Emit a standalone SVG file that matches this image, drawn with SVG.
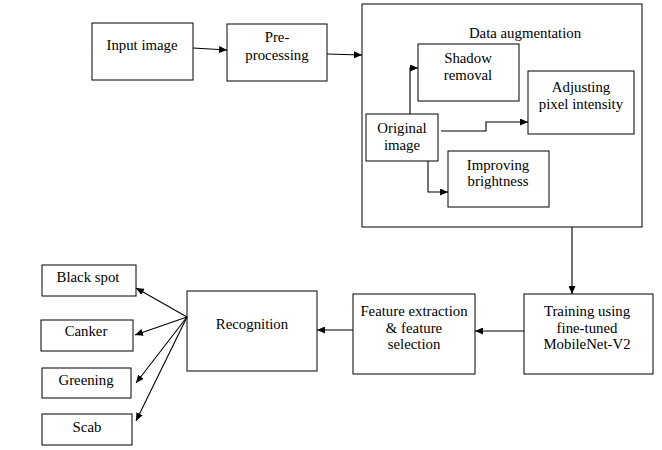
<svg xmlns="http://www.w3.org/2000/svg" width="662" height="450" viewBox="0 0 662 450">
<defs>
<marker id="ah" markerWidth="9" markerHeight="7" refX="8" refY="3.5" orient="auto" markerUnits="userSpaceOnUse">
<path d="M0,0 L8,3.5 L0,7 z" fill="#000"/>
</marker>
<style>
.box{fill:#fff;stroke:#000;stroke-width:1}
.t{font-family:"Liberation Serif","Times New Roman",serif;font-size:14.8px;fill:#000;text-anchor:middle}
.c{fill:none;stroke:#000;stroke-width:1.1;marker-end:url(#ah)}
.l{fill:none;stroke:#000;stroke-width:1.1}
</style>
</defs>
<rect width="662" height="450" fill="#fff"/>
<g id="data-augmentation">
<rect class="box" x="362" y="4" width="280" height="223"/>
<text class="t" x="525" y="38">Data augmentation</text>
</g>
<g id="input-image">
<rect class="box" x="92" y="23" width="101" height="57"/>
<text class="t" x="142" y="50">Input image</text>
</g>
<g id="pre-processing">
<rect class="box" x="227" y="24" width="100" height="57"/>
<text class="t" x="277" y="42">Pre-</text>
<text class="t" x="277" y="60">processing</text>
</g>
<g id="shadow-removal">
<rect class="box" x="418" y="44" width="101" height="57"/>
<text class="t" x="468" y="63">Shadow</text>
<text class="t" x="468" y="80">removal</text>
</g>
<g id="adjusting">
<rect class="box" x="528" y="71" width="106" height="63"/>
<text class="t" x="581" y="92">Adjusting</text>
<text class="t" x="581" y="109">pixel intensity</text>
</g>
<g id="original-image">
<rect class="box" x="366" y="114" width="72" height="47"/>
<text class="t" x="402" y="133">Original</text>
<text class="t" x="402" y="150">image</text>
</g>
<g id="improving-brightness">
<rect class="box" x="448" y="151" width="101" height="56"/>
<text class="t" x="498" y="170">Improving</text>
<text class="t" x="498" y="186">brightness</text>
</g>
<g id="training">
<rect class="box" x="524" y="294" width="129" height="80"/>
<text class="t" x="587" y="316">Training using</text>
<text class="t" x="587" y="333">fine-tuned</text>
<text class="t" x="587" y="349">MobileNet-V2</text>
</g>
<g id="feature">
<rect class="box" x="353" y="294" width="122" height="80"/>
<text class="t" x="414" y="316">Feature extraction</text>
<text class="t" x="414" y="333">&amp; feature</text>
<text class="t" x="414" y="349">selection</text>
</g>
<g id="recognition">
<rect class="box" x="187" y="291" width="130" height="80"/>
<text class="t" x="252" y="329">Recognition</text>
</g>
<g id="black-spot">
<rect class="box" x="42" y="265" width="94" height="31"/>
<text class="t" x="88" y="282">Black spot</text>
</g>
<g id="canker">
<rect class="box" x="41" y="320" width="92" height="31"/>
<text class="t" x="86" y="336">Canker</text>
</g>
<g id="greening">
<rect class="box" x="42" y="368" width="89" height="30"/>
<text class="t" x="86" y="385">Greening</text>
</g>
<g id="scab">
<rect class="box" x="42" y="414" width="90" height="31"/>
<text class="t" x="87" y="432">Scab</text>
</g>
<g id="connectors">
<path class="c" d="M193,48 L227,50"/>
<path class="c" d="M327,54 L362,55"/>
<path class="c" d="M410,114 L410,68 L418,68"/>
<path class="c" d="M441,131 L486,131 L486,122 L528,122"/>
<path class="c" d="M428,161 L428,192 L448,192"/>
<path class="c" d="M572,227 L572,294"/>
<path class="c" d="M524,331 L475,331"/>
<path class="c" d="M353,330 L317,330"/>
<path class="c" d="M187,317 L136,288"/>
<path class="c" d="M187,317 L135,335"/>
<path class="c" d="M187,317 L136,383"/>
<path class="c" d="M187,317 L136,421"/>
</g>
</svg>
